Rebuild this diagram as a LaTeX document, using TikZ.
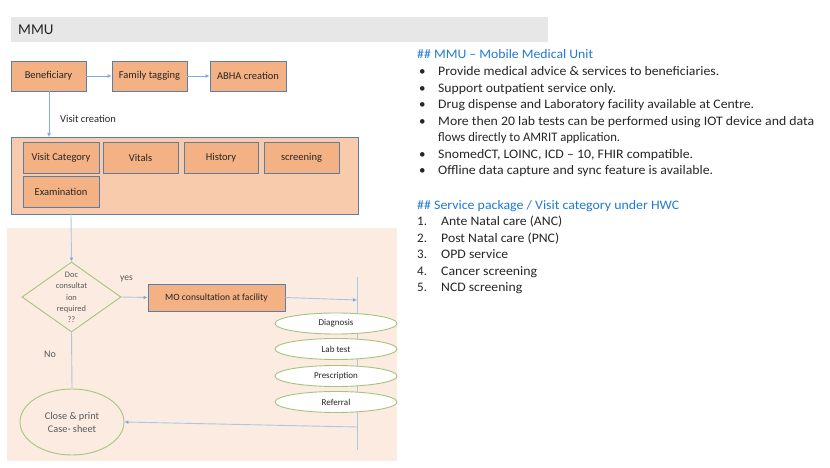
\documentclass[tikz,border=0pt]{standalone}
\usepackage{fontspec}
\usepackage{graphicx}
\setmainfont{Carlito}
\usetikzlibrary{shapes.geometric,arrows.meta}
\definecolor{orangebox}{HTML}{F4B183}
\definecolor{bigbox}{HTML}{F8CBAD}
\definecolor{panel}{HTML}{FCEBE1}
\definecolor{boxborder}{HTML}{5A7EA6}
\definecolor{arrowblue}{HTML}{7EAEDD}
\definecolor{lineblue}{HTML}{A9C8E4}
\definecolor{greenline}{HTML}{A5C47C}
\definecolor{titlegray}{HTML}{E7E7E7}
\definecolor{headblue}{HTML}{1F7BD0}
\definecolor{txt}{HTML}{262626}
\definecolor{graytxt}{HTML}{595959}
\newcommand{\fitw}[2]{\resizebox{#1pt}{\height}{#2}}
\tikzset{
  obox/.style={draw=boxborder, line width=0.9pt, fill=orangebox, inner sep=0pt, text=txt, font=\fontsize{10.5}{12}\selectfont},
  conn/.style={draw=arrowblue, line width=0.8pt, -{Latex[length=4pt,width=4pt]}},
  plainconn/.style={draw=lineblue, line width=0.9pt},
  pconn/.style={draw=lineblue, line width=0.9pt, -{Latex[length=4pt,width=4pt,color=arrowblue]}},
  oval/.style={ellipse, draw=greenline, line width=0.9pt, fill=white, inner sep=0pt, minimum width=122pt, minimum height=21pt, text=txt, font=\fontsize{9}{10}\selectfont},
  lbl/.style={text=txt, inner sep=0pt},
  bullet/.style={anchor=base west, inner sep=0pt, text=txt, font=\fontsize{13}{15}\selectfont},
}
\begin{document}
\begin{tikzpicture}[x=1pt,y=-1pt]
\useasboundingbox (0,0) rectangle (830,468);
\fill[white] (0,0) rectangle (830,468);
% title bar
\fill[titlegray] (11,17) rectangle (548,42);
\node[lbl, anchor=west, font=\fontsize{15}{17}\selectfont] (title) at (18,30) {MMU};
% top boxes
\node[obox, minimum width=75pt, minimum height=30pt] (ben) at (48.5,76) {Beneficiary};
\node[obox, minimum width=75pt, minimum height=30pt] (fam) at (149.5,76) {Family tagging};
\node[obox, minimum width=76pt, minimum height=30pt] (abha) at (248,76) {ABHA creation};
\draw[conn] (ben) -- (fam);
\draw[conn] (fam) -- (abha);
% big box
\node[draw=boxborder, line width=0.9pt, fill=bigbox, minimum width=347pt, minimum height=77pt, inner sep=0pt] (big) at (184.5,175.5) {};
\node[obox, minimum width=76pt, minimum height=31pt] (vc) at (61,157.5) {Visit Category};
\node[obox, minimum width=75pt, minimum height=31pt] (vit) at (140.5,157.5) {Vitals};
\node[obox, minimum width=74pt, minimum height=31pt] (his) at (221,157.5) {History};
\node[obox, minimum width=75pt, minimum height=31pt] (scr) at (301.5,157.5) {screening};
\node[obox, minimum width=76pt, minimum height=31pt] (exa) at (61,191.5) {Examination};
\coordinate (vtop) at (49,137);
\draw[conn] (ben.south -| vtop) -- (vtop);
\node[lbl, anchor=west, font=\fontsize{10.5}{12}\selectfont] (vislbl) at (60,119) {Visit creation};
% lower panel
\fill[panel] (7,228) rectangle (397,461);
\node[diamond, draw=greenline, line width=0.9pt, minimum width=99pt, minimum height=70pt, inner sep=0pt, aspect=1.41] (dia) at (71.5,297) {};
\node[lbl, text=graytxt, align=center, font=\fontsize{8.4}{11.3}\selectfont] (diatxt) at (71.5,297.5) {Doc\\consultat\\ion\\required\\??};
\coordinate (bigout) at (71,214);
\draw[pconn] (bigout) -- (dia.north);
\node[lbl, text=graytxt, anchor=west, font=\fontsize{9.5}{11}\selectfont] (yes) at (120,279) {yes};
\node[obox, minimum width=137pt, minimum height=27pt, font=\fontsize{9.6}{11}\selectfont] (mo) at (216.5,297.5) {MO consultation at facility};
\draw[pconn] (dia.east) -- (mo.west);
% vertical line
\coordinate (vl1) at (357,277);
\coordinate (vl2) at (357,450);
\draw[plainconn] (vl1) -- (vl2);
\coordinate (moend) at (357,300);
\draw[pconn] (mo.east) -- (moend);
\node[oval] (diag) at (336,323.5) {Diagnosis};
\node[oval] (lab) at (336,349) {Lab test};
\node[oval] (pres) at (336,376) {Prescription};
\node[oval] (ref) at (336,402) {Referral};
% close circle
\node[ellipse, draw=greenline, line width=0.9pt, minimum width=104pt, minimum height=66pt, inner sep=0pt, align=center, text=graytxt, font=\fontsize{10.3}{13}\selectfont] (close) at (72,422) {Close \& print\\Case- sheet};
\draw[plainconn] (dia.south) -- (close.north);
\node[lbl, text=graytxt, anchor=west, font=\fontsize{10}{12}\selectfont] (no) at (44,354) {No};
\coordinate (retstart) at (357,427);
\draw[pconn] (retstart) -- (close.east);
% right text
\node[bullet, text=headblue] (h1) at (417,59) {\fitw{176}{\#\# MMU -- Mobile Medical Unit}};
\foreach \y/\w/\t [count=\i] in {
  76/281/{Provide medical advice \& services to beneficiaries.},
  92.5/178/{Support outpatient service only.},
  109/316/{Drug dispense and Laboratory facility available at Centre.},
  125.5/376/{More then 20 lab tests can be performed using IOT device and data},
  142/182/{flows directly to AMRIT application.},
  158.5/255/{SnomedCT, LOINC, ICD -- 10, FHIR compatible.},
  175/275/{Offline data capture and sync feature is available.}}{
  \node[bullet] (b\i) at (438,\y) {\fitw{\w}{\t}};
}
\foreach \y [count=\j] in {76,92.5,109,125.5,158.5,175}{
  \node[bullet] (dot\j) at (419,\y) {•};
}
\node[bullet, text=headblue] (h2) at (417,209) {\fitw{262}{\#\# Service package / Visit category under HWC}};
\foreach \y/\n/\w/\t in {
  225.5/1/121/{Ante Natal care (ANC)},
  242/2/118/{Post Natal care (PNC)},
  258.5/3/67/{OPD service},
  275/4/96/{Cancer screening},
  291.5/5/81/{NCD screening}}{
  \node[bullet] (num\n) at (417,\y) {\n.};
  \node[bullet] (it\n) at (441,\y) {\fitw{\w}{\t}};
}
\end{tikzpicture}
\end{document}
